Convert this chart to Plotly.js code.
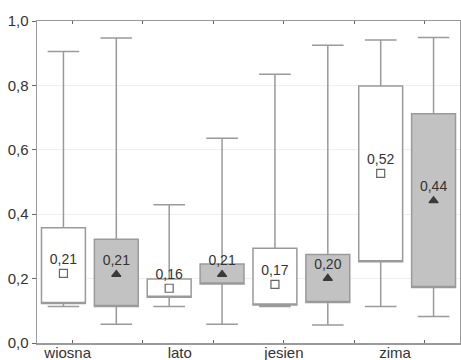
<!DOCTYPE html>
<html><head><meta charset="utf-8">
<script src="https://cdn.plot.ly/plotly-3.0.1.min.js"></script>
<style>html,body{margin:0;padding:0;background:#fff}#chart{width:461px;height:360px}</style>
</head><body><div id="chart"></div>
<script>
// Data
const seasons = ['wiosna', 'lato', 'jesien', 'zima'];
// Series A (white boxes, square marker)
const aMin    = [0.113, 0.113, 0.113, 0.113];
const aLow    = [0.123, 0.142, 0.118, 0.252];
const aHigh   = [0.358, 0.199, 0.294, 0.798];
const aMax    = [0.905, 0.429, 0.835, 0.941];
const aMid    = [0.216, 0.170, 0.182, 0.527];
const aLabels = ['0,21', '0,16', '0,17', '0,52'];
// Series B (grey boxes, triangle marker)
const bMin    = [0.058, 0.058, 0.056, 0.082];
const bLow    = [0.113, 0.183, 0.126, 0.172];
const bHigh   = [0.322, 0.245, 0.275, 0.712];
const bMax    = [0.947, 0.636, 0.925, 0.949];
const bMid    = [0.213, 0.213, 0.201, 0.442];
const bLabels = ['0,21', '0,21', '0,20', '0,44'];

// layout helpers
const xA = seasons.map((s, i) => 2 * i + 0.5);
const xB = seasons.map((s, i) => 2 * i + 1.5);
const labelPos = [0.58, 2.70, 4.67, 6.77];
const tickPos = [0, 1, 2, 3, 4, 5].map(k => (k + 0.5) * 8 / 6);

const lineCol = '#9a9a9a';
function boxTrace(x, lo, q1, q3, hi, fill) {
  return {
    type: 'box', x: x, q1: q1, median: q1, q3: q3,
    lowerfence: lo, upperfence: hi,
    width: 0.83, whiskerwidth: 0.72,
    fillcolor: fill, line: {color: lineCol, width: 1.5},
    boxpoints: false, hoverinfo: 'skip', xaxis: 'x', yaxis: 'y'
  };
}
function midTrace(x, y, txt, symbol, color) {
  return {
    type: 'scatter', mode: 'markers+text', x: x, y: y, text: txt,
    textposition: 'top center', cliponaxis: false,
    textfont: {size: 14, color: '#333', family: 'Liberation Sans, Arial, sans-serif'},
    marker: {symbol: symbol, size: 8, color: color, line: {color: color, width: 1.2}},
    hoverinfo: 'skip'
  };
}
const data = [
  boxTrace(xA, aMin, aLow, aHigh, aMax, '#ffffff'),
  boxTrace(xB, bMin, bLow, bHigh, bMax, '#c2c2c2'),
  midTrace(xA, aMid, aLabels, 'square-open', '#666'),
  midTrace(xB, bMid, bLabels, 'triangle-up', '#3a3a3a'),
  {type: 'scatter', x: [], y: [], xaxis: 'x2', yaxis: 'y', hoverinfo: 'skip'}
];
const layout = {
  width: 461, height: 360,
  margin: {l: 37, r: 1, t: 21, b: 17},
  separators: ',.',
  showlegend: false,
  paper_bgcolor: '#fff', plot_bgcolor: '#fff',
  font: {family: 'Liberation Sans, Arial, sans-serif', color: '#333'},
  xaxis: {
    range: [0, 8], tickmode: 'array', tickvals: labelPos, ticktext: seasons,
    ticks: '', showline: true, linecolor: lineCol, linewidth: 1.5, mirror: true,
    showgrid: false, zeroline: false, tickfont: {size: 15, color: '#333'},
    ticklabelstandoff: -5
  },
  xaxis2: {
    overlaying: 'x', anchor: 'y', side: 'bottom', range: [0, 8],
    tickmode: 'array', tickvals: tickPos, ticks: 'inside', ticklen: 3,
    tickcolor: '#666', tickwidth: 1, showticklabels: false,
    showline: true, linecolor: lineCol, linewidth: 1.5, mirror: 'ticks',
    showgrid: false, zeroline: false
  },
  yaxis: {
    range: [0, 1], tick0: 0, dtick: 0.2, tickformat: '.1f',
    ticks: 'outside', ticklen: 4, tickcolor: '#666', tickwidth: 1,
    showline: true, linecolor: lineCol, linewidth: 1.5, mirror: 'ticks',
    gridcolor: '#efefef', gridwidth: 1, zeroline: false,
    tickfont: {size: 15, color: '#333'}
  }
};
Plotly.newPlot('chart', data, layout, {staticPlot: true, displayModeBar: false});
</script>
</body></html>
